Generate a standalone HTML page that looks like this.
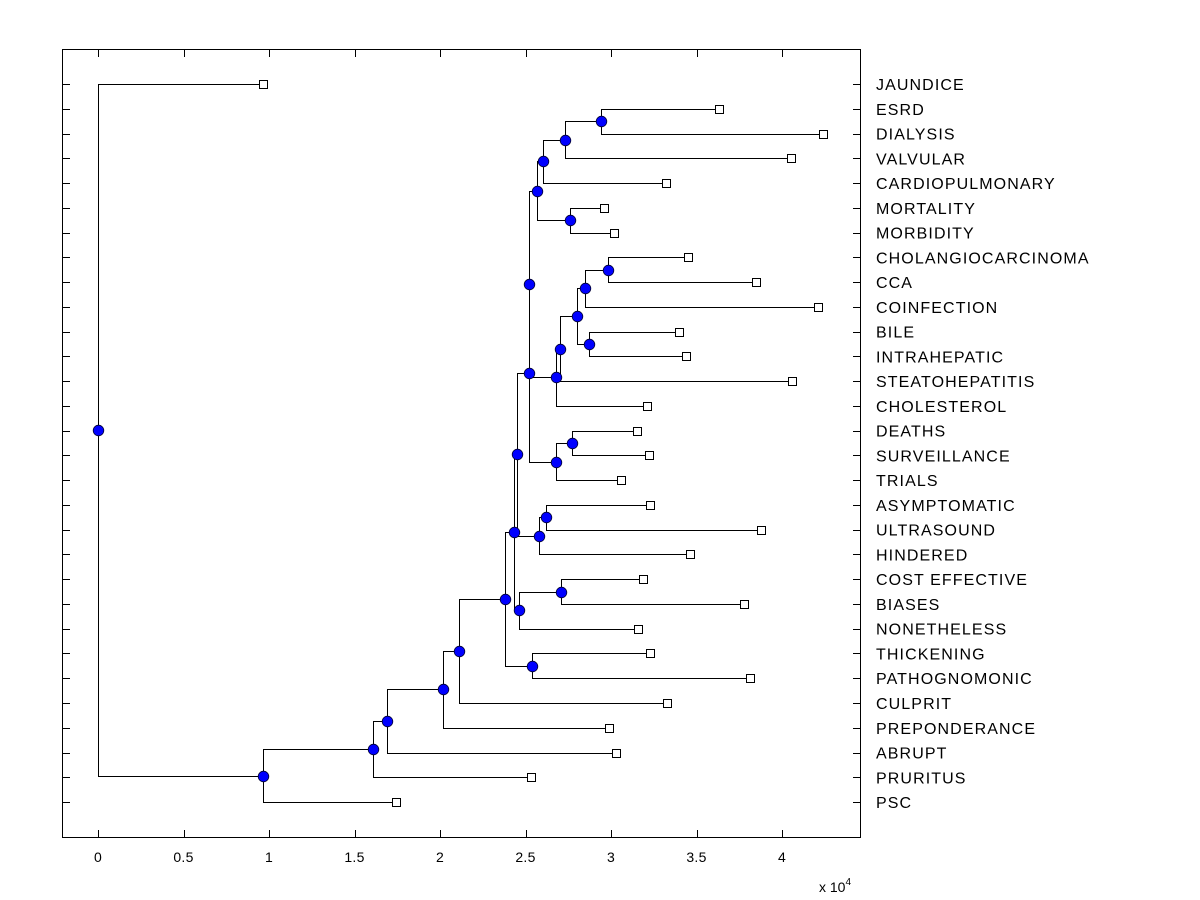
<!DOCTYPE html>
<html><head><meta charset="utf-8"><style>
html,body{margin:0;padding:0;background:#fff;}
svg{display:block;font-family:"Liberation Sans",Arial,sans-serif;}
</style></head><body>
<svg id="chart" width="1200" height="900" xmlns="http://www.w3.org/2000/svg">
<rect x="62.5" y="49.5" width="798" height="788" fill="#fff" stroke="#000" stroke-width="1"/>
<g id="ticks"></g>
<g id="tree"></g>
<g id="labels"></g>
<text x="819" y="892" font-size="14">x 10<tspan dy="-7" font-size="10">4</tspan></text>
</svg>
<script>
// Leaf names (top to bottom)
const leafNames = ["JAUNDICE","ESRD","DIALYSIS","VALVULAR","CARDIOPULMONARY","MORTALITY","MORBIDITY","CHOLANGIOCARCINOMA","CCA","COINFECTION","BILE","INTRAHEPATIC","STEATOHEPATITIS","CHOLESTEROL","DEATHS","SURVEILLANCE","TRIALS","ASYMPTOMATIC","ULTRASOUND","HINDERED","COST EFFECTIVE","BIASES","NONETHELESS","THICKENING","PATHOGNOMONIC","CULPRIT","PREPONDERANCE","ABRUPT","PRURITUS","PSC"];
// Leaf distances (x 10^4)
const leafDist = [0.965,3.63,4.24,4.05,3.32,2.96,3.02,3.45,3.85,4.21,3.40,3.44,4.06,3.21,3.15,3.22,3.06,3.23,3.88,3.46,3.19,3.78,3.16,3.23,3.81,3.33,2.99,3.03,2.53,1.74];
// Internal node names, distances (x 10^4), and children
const nodeNames = ["root","A","B","C","D","E","F","H","G","K","L","X","J","M","S","R","V","W","P4","P3","P2","P1","Q","T5","T4","T3","T2","T1","U"];
const nodeDist  = [0,0.965,1.61,1.69,2.02,2.11,2.38,2.54,2.43,2.46,2.71,2.45,2.58,2.62,2.52,2.52,2.68,2.77,2.57,2.60,2.73,2.94,2.76,2.68,2.70,2.80,2.85,2.98,2.87];
const nodeKids  = [["JAUNDICE","A"],["B","PSC"],["C","PRURITUS"],["D","ABRUPT"],["E","PREPONDERANCE"],["F","CULPRIT"],["G","H"],["THICKENING","PATHOGNOMONIC"],["X","K"],["L","NONETHELESS"],["COST EFFECTIVE","BIASES"],["S","J"],["M","HINDERED"],["ASYMPTOMATIC","ULTRASOUND"],["R","V"],["P4","T5"],["W","TRIALS"],["DEATHS","SURVEILLANCE"],["P3","Q"],["P2","CARDIOPULMONARY"],["P1","VALVULAR"],["ESRD","DIALYSIS"],["MORTALITY","MORBIDITY"],["T4","CHOLESTEROL"],["T3","STEATOHEPATITIS"],["T2","U"],["T1","COINFECTION"],["CHOLANGIOCARCINOMA","CCA"],["BILE","INTRAHEPATIC"]];
const xTicks = [0,0.5,1,1.5,2,2.5,3,3.5,4];
const xTickLabels = ["0","0.5","1","1.5","2","2.5","3","3.5","4"];

const NS="http://www.w3.org/2000/svg";
const xs = v => 98 + v*171;
const ys = i => 84 + i*24.76;
function mk(tag,attrs,parent){const e=document.createElementNS(NS,tag);for(const k in attrs)e.setAttribute(k,attrs[k]);parent.appendChild(e);return e;}
const tk=document.getElementById('ticks'), tr=document.getElementById('tree'), lb=document.getElementById('labels');

xTicks.forEach((t,i)=>{
  const x=Math.round(xs(t))+0.5;
  const a=mk('line',{x1:x,x2:x,y1:837,y2:830,stroke:'#000'},tk);
  
  
  const b=mk('line',{x1:x,x2:x,y1:50,y2:57,stroke:'#000'},tk);
  
  
  const l=mk('text',{x:xs(t),y:862,'font-size':14,'text-anchor':'middle','letter-spacing':0.3},tk);
  l.textContent=xTickLabels[i];
  
  
});
leafNames.forEach((n,i)=>{
  const y=Math.round(ys(i))+0.5;
  const a=mk('line',{x1:63,x2:70,y1:y,y2:y,stroke:'#000'},tk);
  
  
  const b=mk('line',{x1:853,x2:860,y1:y,y2:y,stroke:'#000'},tk);
  
  
  const t=mk('text',{x:876,y:ys(i)+6,'font-size':16,'letter-spacing':1.1},lb);
  t.textContent=n;
  
  
});

const pos={};
leafNames.forEach((n,i)=>{pos[n]={x:leafDist[i],y:i};});
function getPos(n){
  if(pos[n])return pos[n];
  const k=nodeNames.indexOf(n);
  const ch=nodeKids[k].map(getPos);
  pos[n]={x:nodeDist[k],y:(ch[0].y+ch[1].y)/2};
  return pos[n];
}
nodeNames.forEach(getPos);

nodeNames.forEach((n,k)=>{
  const p=pos[n];
  nodeKids[k].forEach(c=>{
    const q=pos[c];
    const px=Math.round(xs(p.x))+0.5, py=Math.round(ys(p.y))+0.5, cx=Math.round(xs(q.x))+0.5, cy=Math.round(ys(q.y))+0.5;
    const e=mk('path',{d:`M${px},${py}V${cy}H${cx}`,fill:'none',stroke:'#000','stroke-width':1},tr);
    
    
  });
});
leafNames.forEach(n=>{
  const p=pos[n];
  const e=mk('rect',{x:Math.round(xs(p.x))-3.5,y:Math.round(ys(p.y))-3.5,width:8,height:8,fill:'#fff',stroke:'#000'},tr);
  
  
});
nodeNames.forEach(n=>{
  const p=pos[n];
  const e=mk('circle',{cx:Math.round(xs(p.x))+0.5,cy:Math.round(ys(p.y))+0.5,r:5.3,fill:'#0000ff',stroke:'#000033','stroke-width':0.8},tr);
  
  
});
</script>
</body></html>
